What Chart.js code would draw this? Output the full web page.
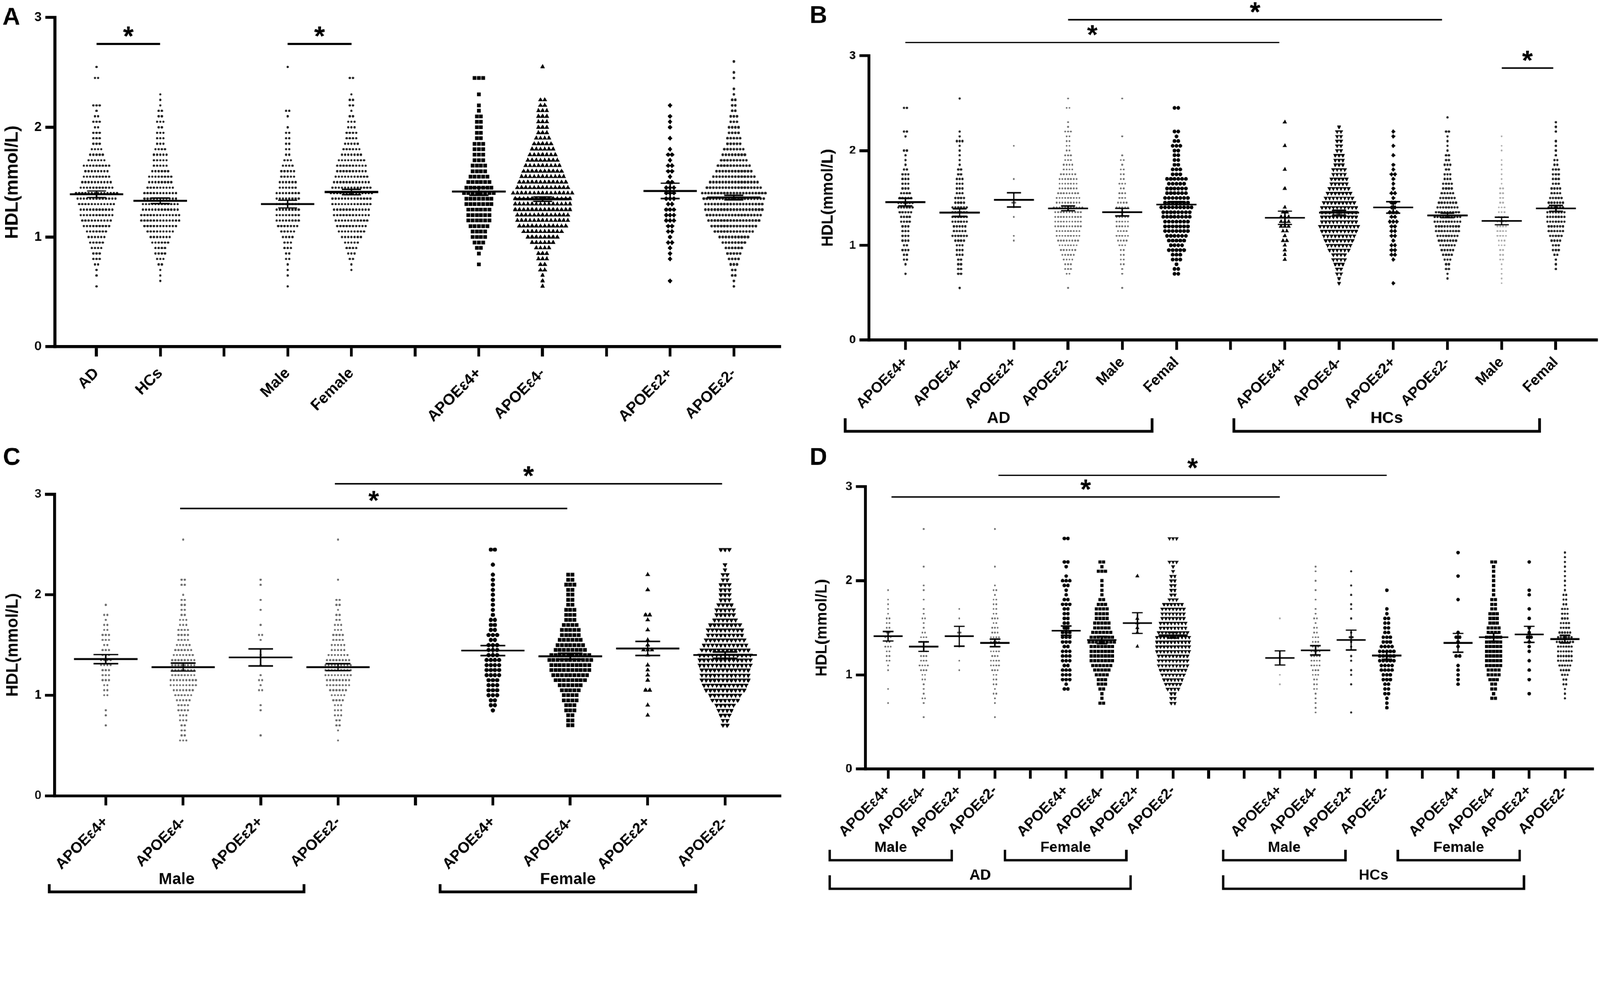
<!DOCTYPE html>
<html lang="en">
<head>
<meta charset="UTF-8">
<title>HDL by diagnosis, sex and APOE genotype</title>
<script src="https://cdn.jsdelivr.net/npm/chart.js"></script>
<style>
  html, body { margin: 0; padding: 0; background: #fff; overflow: hidden; height: 100%; }
  #frame { position: fixed; left: 0; top: 0; width: 100vw; height: 100vh; overflow: hidden; background: #fff; }
  #page { position: absolute; left: 0; top: 0; width: 4562px; height: 2554px; transform-origin: 0 0; background: #fff; }
  .panel { position: absolute; }
  .panel canvas { display: block; }
</style>
</head>
<body>
<div id="frame">
  <div id="page">
    <div class="panel" id="boxA"><canvas id="chartA"></canvas></div>
    <div class="panel" id="boxB"><canvas id="chartB"></canvas></div>
    <div class="panel" id="boxC"><canvas id="chartC"></canvas></div>
    <div class="panel" id="boxD"><canvas id="chartD"></canvas></div>
  </div>
</div>

<script>
// HDL value of each row of dots (mmol/L); every group below counts its dots per row
const BINS = [0.55,0.60,0.65,0.70,0.75,0.80,0.85,0.90,0.95,1.00,1.05,1.10,1.15,1.20,1.25,1.30,1.35,1.40,1.45,1.50,
              1.55,1.60,1.65,1.70,1.75,1.80,1.85,1.90,1.95,2.00,2.05,2.10,2.15,2.20,2.25,2.30,2.35,2.40,2.45,2.50,2.55,2.60];

// ---- panel A ----
const A_CATS = ['AD','HCs','','Male','Female','','APOEε4+','APOEε4-','','APOEε2+','APOEε2-'];
const A_AD     = [1,0,1,1,2,3,3,4,5,6, 7,9,10,11,11,12,13,14,11,10, 9,8,9,6,5,4,3,3,3,2, 3,2,1,3,0,0,0,0,2,0, 1,0];
const A_HCS    = [0,1,1,1,2,3,4,4,6,7, 9,11,13,13,12,12,11,11,9,8, 8,6,5,5,5,4,3,3,3,2, 3,2,2,1,1,1,0,0,0,0, 0,0];
const A_MALE   = [1,0,1,1,1,2,2,3,3,4, 5,7,8,8,8,8,8,8,6,6, 5,5,4,3,2,2,2,2,2,1, 0,1,2,0,0,0,0,0,0,0, 1,0];
const A_FEMALE = [0,0,0,1,1,2,3,4,5,7, 9,10,11,12,12,13,13,14,13,12, 11,10,10,9,7,6,5,4,4,3, 3,2,1,2,2,1,0,0,2,0, 0,0];
const A_E4P    = [0,0,0,0,1,0,1,2,3,4, 4,5,6,6,6,7,7,8,7,6, 5,4,4,3,3,3,3,2,2,2, 2,2,1,1,0,1,0,0,3,0, 0,0];
const A_E4M    = [1,1,1,2,2,3,3,4,6,8, 10,12,13,13,14,14,14,15,13,12, 11,10,9,8,7,6,5,4,3,3, 3,3,3,2,2,0,0,0,0,0, 1,0];
const A_E2P    = [0,1,0,0,0,1,1,1,2,1, 2,2,3,3,3,2,3,3,3,2, 1,2,2,1,2,1,0,1,0,1, 1,1,0,1,0,0,0,0,0,0, 0,0];
const A_E2M    = [1,1,2,2,3,4,5,6,8,10, 13,15,17,18,19,19,20,21,18,16, 14,12,11,9,8,7,5,5,4,4, 3,3,2,2,2,1,1,0,1,1, 0,1];
const A_MEAN = [1.39,1.33,null,1.30,1.41,null,1.415,1.345,null,1.42,1.36];
const A_SEM  = [0.03,0.025,null,0.035,0.025,null,0.035,0.02,null,0.07,0.02];
const A_SIG  = [[0,1,2.76],[3,4,2.76]];

// ---- panel B ----
const B_CATS = ['APOEε4+','APOEε4-','APOEε2+','APOEε2-','Male','Femal','','APOEε4+','APOEε4-','APOEε2+','APOEε2-','Male','Femal'];
const B_AD_E4P  = [0,0,0,1,0,1,2,2,3,2, 3,3,3,3,4,4,5,6,6,5, 4,3,3,3,3,2,1,1,1,2, 0,0,1,2,0,0,0,0,2,0, 0,0];
const B_AD_E4M  = [1,0,0,2,2,2,2,3,3,3, 4,6,5,5,6,6,6,6,4,4, 3,3,3,3,2,2,1,1,1,1, 1,3,1,1,0,0,0,0,0,0, 1,0];
const B_AD_E2P  = [0,0,0,0,0,0,0,0,0,0, 1,1,0,0,0,1,0,1,2,0, 1,0,0,1,0,0,0,0,0,0, 1,0,0,0,0,0,0,0,0,0, 0,0];
const B_AD_E2M  = [1,0,0,2,3,3,4,5,6,7, 8,9,9,10,10,10,10,11,9,9, 8,7,7,7,6,4,4,3,3,2, 2,2,2,3,1,1,0,0,2,0, 1,0];
const B_AD_MALE = [1,0,0,1,1,2,2,2,2,3, 4,5,4,5,5,5,6,5,4,3, 3,2,3,2,2,2,1,2,1,0, 0,0,1,0,0,0,0,0,0,0, 1,0];
const B_AD_FEM  = [0,0,0,2,2,1,3,3,5,4, 5,6,7,7,7,8,8,9,7,7, 6,6,5,6,3,3,2,2,2,2, 3,2,1,2,0,0,0,0,2,0, 0,0];
const B_HC_E4P  = [0,0,0,0,0,0,1,1,1,1, 2,1,2,3,3,3,2,1,0,0, 0,1,0,0,0,1,0,0,0,0, 1,0,0,0,0,1,0,0,0,0, 0,0];
const B_HC_E4M  = [0,1,1,2,2,3,4,4,6,7, 8,9,10,11,10,10,10,10,9,8, 7,6,5,5,4,4,3,3,3,2, 2,2,2,2,1,0,0,0,0,0, 0,0];
const B_HC_E2P  = [0,1,0,0,0,0,1,2,2,2, 1,2,2,2,3,2,3,2,2,1, 2,1,1,1,2,1,1,0,1,0, 1,0,1,1,0,0,0,0,0,0, 0,0];
const B_HC_E2M  = [0,0,1,1,2,2,3,4,5,6, 7,8,9,9,10,10,9,8,7,6, 5,4,4,3,3,2,3,2,2,1, 1,1,1,2,0,0,1,0,0,0, 0,0];
const B_HC_MALE = [0,1,1,1,1,1,2,2,2,3, 3,4,4,4,4,3,3,3,2,2, 2,2,1,1,1,1,1,1,0,1, 1,0,1,0,0,0,0,0,0,0, 0,0];
const B_HC_FEM  = [0,0,0,0,1,1,1,2,3,3, 4,5,6,6,7,7,7,6,6,5, 4,4,3,3,3,3,2,2,1,1, 1,1,0,1,1,1,0,0,0,0, 0,0];
const B_MEAN = [1.455,1.345,1.48,1.39,1.35,1.43,null,1.29,1.345,1.40,1.315,1.257,1.39];
const B_SEM  = [0.04,0.04,0.075,0.025,0.04,0.03,null,0.07,0.025,0.06,0.025,0.04,0.03];
const B_SIG  = [[3,9.9,3.38],[0,6.9,3.14],[11,11.95,2.87]];
const B_BRACKETS = [[-1.11,4.55,'AD',0],[6.06,11.70,'HCs',0]];

// ---- panel C ----
const C_CATS = ['APOEε4+','APOEε4-','APOEε2+','APOEε2-','','APOEε4+','APOEε4-','APOEε2+','APOEε2-'];
const C_M_E4P = [0,0,0,1,0,1,1,0,0,2, 2,2,3,3,3,4,4,3,3,2, 3,3,2,2,1,2,0,1,0,0, 0,0,0,0,0,0,0,0,0,0, 0,0];
const C_M_E4M = [3,2,2,2,3,3,4,4,5,6, 7,9,9,8,8,8,8,7,6,5, 4,4,4,3,3,2,2,2,2,1, 0,2,2,0,0,0,0,0,0,0, 1,0];
const C_M_E2P = [0,1,0,0,0,0,1,1,0,0, 2,1,2,1,0,1,0,1,0,0, 1,2,0,1,0,0,1,0,1,0, 0,1,1,0,0,0,0,0,0,0, 0,0];
const C_M_E2M = [1,0,1,2,2,3,3,3,4,5, 6,8,8,9,9,9,8,7,5,5, 4,4,3,3,2,2,1,2,2,0, 0,0,1,0,0,0,0,0,0,0, 1,0];
const C_F_E4P = [0,0,0,0,0,0,1,2,2,3, 3,3,3,4,4,4,4,3,3,3, 2,3,2,2,2,1,1,1,1,1, 1,1,1,1,0,1,0,0,2,0, 0,0];
const C_F_E4M = [0,0,0,2,2,2,3,3,4,4, 5,6,8,9,10,10,11,10,8,7, 6,5,5,4,3,3,3,2,2,2, 2,3,2,2,0,0,0,0,0,0, 0,0];
const C_F_E2P = [0,0,0,0,0,1,0,1,0,0, 2,0,1,1,1,1,0,1,3,1, 1,0,1,0,1,2,0,0,0,0, 1,0,0,1,0,0,0,0,0,0, 0,0];
const C_F_E2M = [0,0,0,2,2,3,4,5,7,8, 10,11,12,12,12,13,13,13,12,11, 10,9,9,8,6,5,5,4,3,3, 3,3,2,2,1,1,0,0,3,0, 0,0];
const C_MEAN = [1.36,1.28,1.376,1.28,null,1.444,1.388,1.465,1.40];
const C_SEM  = [0.045,0.04,0.085,0.035,null,0.05,0.03,0.07,0.03];
const C_SIG  = [[2.96,7.96,3.105],[0.96,5.96,2.86]];
const C_BRACKETS = [[-0.73,2.56,'Male',0],[4.32,7.62,'Female',0]];

// ---- panel D ----
const D_CATS = ['APOEε4+','APOEε4-','APOEε2+','APOEε2-','','APOEε4+','APOEε4-','APOEε2+','APOEε2-','','',
                'APOEε4+','APOEε4-','APOEε2+','APOEε2-','','APOEε4+','APOEε4-','APOEε2+','APOEε2-'];
const D_ADM_E4P = [0,0,0,1,0,0,1,0,0,0, 1,1,2,2,2,3,2,3,2,2, 2,2,1,1,1,1,0,1,0,0, 0,0,0,0,0,0,0,0,0,0, 0,0];
const D_ADM_E4M = [1,0,0,1,2,1,1,1,2,2, 3,4,3,3,3,3,3,3,2,1, 1,2,1,1,0,1,0,1,1,0, 0,0,1,0,0,0,0,0,0,0, 1,0];
const D_ADM_E2P = [0,0,0,0,0,0,0,0,0,0, 1,0,1,0,0,1,0,1,2,0, 0,1,0,1,0,0,0,0,0,0, 0,0,0,0,0,0,0,0,0,0, 0,0];
const D_ADM_E2M = [1,0,0,1,1,2,1,2,2,2, 3,4,4,3,4,4,4,4,3,3, 2,3,2,2,2,2,1,2,1,0, 0,0,1,0,0,0,0,0,0,0, 1,0];
const D_ADF_E4P = [0,0,0,0,0,0,2,1,3,3, 3,2,3,3,3,2,3,3,3,2, 2,2,2,2,3,2,1,1,2,3, 1,0,1,2,0,0,0,0,2,0, 0,0];
const D_ADF_E4M = [0,0,0,2,1,1,2,3,3,4, 5,6,7,7,7,7,8,7,6,5, 5,4,4,4,3,2,1,1,1,1, 0,3,1,2,0,0,0,0,0,0, 0,0];
const D_ADF_E2P = [0,0,0,0,0,0,0,0,0,0, 0,0,0,0,0,1,0,0,1,1, 1,1,0,0,0,0,0,0,0,0, 1,0,0,0,0,0,0,0,0,0, 0,0];
const D_ADF_E2M = [0,0,0,2,2,2,4,5,6,7, 8,9,9,9,10,10,10,10,9,8, 8,7,7,7,6,3,2,2,2,2, 2,1,1,3,0,0,0,0,3,0, 0,0];
const D_HCM_E4P = [0,0,0,0,0,0,0,1,0,1, 0,0,1,1,0,0,0,0,0,0, 0,1,0,0,0,0,0,0,0,0, 0,0,0,0,0,0,0,0,0,0, 0,0];
const D_HCM_E4M = [0,1,1,1,1,1,2,2,2,3, 3,4,4,4,4,3,3,3,2,2, 1,2,1,1,0,1,0,1,0,1, 0,1,1,0,0,0,0,0,0,0, 0,0];
const D_HCM_E2P = [0,1,0,0,0,0,0,1,0,1, 1,0,1,1,0,1,1,2,1,0, 0,1,0,1,1,0,1,0,1,0, 0,1,0,0,0,0,0,0,0,0, 0,0];
const D_HCM_E2M = [0,0,1,1,1,2,2,2,3,3, 4,4,5,5,5,4,3,3,2,2, 2,2,1,1,0,0,0,1,0,0, 0,0,0,0,0,0,0,0,0,0, 0,0];
const D_HCF_E4P = [0,0,0,0,0,0,0,1,1,1, 1,1,0,2,0,1,1,2,1,0, 0,0,0,0,0,1,0,0,0,0, 1,0,0,0,0,1,0,0,0,0, 0,0];
const D_HCF_E4M = [0,0,0,0,2,1,2,2,3,4, 4,5,5,5,5,5,5,5,4,4, 3,3,3,2,2,2,1,1,1,1, 1,1,1,2,0,0,0,0,0,0, 0,0];
const D_HCF_E2P = [0,0,0,0,0,1,0,0,1,0, 1,0,1,0,1,1,1,2,1,1, 0,1,0,1,0,0,1,1,0,0, 0,0,0,1,0,0,0,0,0,0, 0,0];
const D_HCF_E2M = [0,0,0,0,1,1,1,2,2,3, 4,5,6,6,6,6,7,6,5,4, 4,3,3,3,2,2,2,1,1,1, 1,1,1,1,1,1,0,0,0,0, 0,0];
const D_MEAN = [1.41,1.30,1.41,1.34,null,1.47,1.37,1.55,1.42,null,null,1.18,1.26,1.37,1.205,null,1.34,1.40,1.43,1.38];
const D_SEM  = [0.05,0.05,0.105,0.04,null,0.05,0.04,0.11,0.03,null,null,0.075,0.05,0.105,0.04,null,0.1,0.04,0.085,0.04];
const D_SIG  = [[3.1,14,3.12],[0.1,11,2.89]];
const D_BRACKETS = [[-1.64,1.79,'Male',0],[3.28,6.69,'Female',0],[-1.64,6.81,'AD',1],
                    [9.41,12.84,'Male',0],[14.31,17.73,'Female',0],[9.41,17.85,'HCs',1]];

// marker looks (radius / gap in px before the panel scale)
const MARKS = {
  tiny:    { style: 'circle',   r: 3.3, gap: 9,  color: '#1c1c1c' },
  small:   { style: 'circle',   r: 3.8, gap: 9,  color: '#222' },
  gray:    { style: 'circle',   r: 3.0, gap: 9,  color: '#6a6a6a' },
  light:   { style: 'circle',   r: 3.0, gap: 9,  color: '#a8a8a8' },
  dot:     { style: 'circle',   r: 6.0, gap: 12, color: '#000' },
  square:  { style: 'rect',     r: 7.5, gap: 12, color: '#000' },
  tri:     { style: 'triangle', r: 8.0, gap: 12, color: '#000' },
  dtri:    { style: 'triangle', r: 8.0, gap: 12, color: '#000', rot: 180 },
  diamond: { style: 'rectRot',  r: 7.0, gap: 11, color: '#000' }
};

const FONT = '"Liberation Sans", Arial, sans-serif';
Chart.defaults.font.family = FONT;
Chart.defaults.font.weight = 'bold';
Chart.defaults.color = '#000';

// the figure is laid out on a 4562 x 2554 sheet, then fitted to the window
const FIT = Math.min(window.innerWidth / 4562, window.innerHeight / 2554);
document.getElementById('page').style.transform = 'scale(' + FIT + ')';
const DPR = (window.devicePixelRatio || 1) * FIT;

// font size that makes a bold string a given length
const measureCtx = document.createElement('canvas').getContext('2d');
function fitSize(text, length) {
  measureCtx.font = 'bold 50px ' + FONT;
  return 50 * length / measureCtx.measureText(text).width;
}

const PANELS = [
  { id: 'A', box: [0, 0, 2300, 1250], area: [157, 50, 2223, 988], xmin: -0.65, xmax: 10.72,
    cats: A_CATS, groups: [A_AD, A_HCS, null, A_MALE, A_FEMALE, null, A_E4P, A_E4M, null, A_E2P, A_E2M],
    marks: ['tiny','tiny',null,'tiny','tiny',null,'square','tri',null,'diamond','small'],
    mean: A_MEAN, sem: A_SEM, sig: A_SIG, brackets: [], levels: [],
    tickFont: 38, xFont: 44, xPad: 22, titleLen: 323, titleX: 36, letter: [7, 70], scale: 1,
    meanHW: 0.42, capHW: 0.15, meanW: 6, semW: 4, sigW: 6, brW: 8, brFont: 44 },
  { id: 'B', box: [2300, 0, 2262, 1250], area: [2478, 159, 4551, 969], xmin: -0.67, xmax: 12.75,
    cats: B_CATS, groups: [B_AD_E4P, B_AD_E4M, B_AD_E2P, B_AD_E2M, B_AD_MALE, B_AD_FEM, null,
                           B_HC_E4P, B_HC_E4M, B_HC_E2P, B_HC_E2M, B_HC_MALE, B_HC_FEM],
    marks: ['small','small','gray','gray','gray','dot',null,'tri','dtri','diamond','small','light','small'],
    mean: B_MEAN, sem: B_SEM, sig: B_SIG, brackets: B_BRACKETS, levels: [{ dy: 260, cap: 37, lab: 41 }],
    tickFont: 33, xFont: 42, xPad: 11, titleLen: 279, titleX: 2361, letter: [2308, 66], scale: 0.9,
    meanHW: 0.37, capHW: 0.13, meanW: 5, semW: 4, sigW: 4, brW: 8, brFont: 46 },
  { id: 'C', box: [0, 1250, 2300, 1304], area: [156, 1409, 2224, 2267], xmin: -0.66, xmax: 8.71,
    cats: C_CATS, groups: [C_M_E4P, C_M_E4M, C_M_E2P, C_M_E2M, null, C_F_E4P, C_F_E4M, C_F_E2P, C_F_E2M],
    marks: ['gray','gray','gray','gray',null,'dot','square','tri','dtri'],
    mean: C_MEAN, sem: C_SEM, sig: C_SIG, brackets: C_BRACKETS, levels: [{ dy: 274, cap: 22, lab: 39 }],
    tickFont: 35, xFont: 43, xPad: 22, titleLen: 295, titleX: 37, letter: [8, 1325], scale: 1,
    meanHW: 0.41, capHW: 0.16, meanW: 5, semW: 4, sigW: 4, brW: 8, brFont: 46 },
  { id: 'D', box: [2300, 1250, 2262, 1304], area: [2468, 1387, 4539, 2191], xmin: -0.63, xmax: 19.77,
    cats: D_CATS, groups: [D_ADM_E4P, D_ADM_E4M, D_ADM_E2P, D_ADM_E2M, null, D_ADF_E4P, D_ADF_E4M, D_ADF_E2P, D_ADF_E2M, null, null,
                           D_HCM_E4P, D_HCM_E4M, D_HCM_E2P, D_HCM_E2M, null, D_HCF_E4P, D_HCF_E4M, D_HCF_E2P, D_HCF_E2M],
    marks: ['gray','gray','gray','gray',null,'dot','square','tri','dtri',null,null,
            'light','gray','small','dot',null,'dot','square','dot','small'],
    mean: D_MEAN, sem: D_SEM, sig: D_SIG, brackets: D_BRACKETS,
    levels: [{ dy: 260, cap: 30, lab: 39 }, { dy: 341, cap: 38, lab: 41 }],
    tickFont: 35, xFont: 42, xPad: 9, titleLen: 278, titleX: 2345, letter: [2308, 1325], scale: 0.85,
    meanHW: 0.41, capHW: 0.15, meanW: 5, semW: 4, sigW: 4, brW: 7, brFont: 42 }
];

function hline(ctx, x1, x2, y) { ctx.beginPath(); ctx.moveTo(x1, y); ctx.lineTo(x2, y); ctx.stroke(); }
function vline(ctx, x, y1, y2) { ctx.beginPath(); ctx.moveTo(x, y1); ctx.lineTo(x, y2); ctx.stroke(); }

function star(ctx, cx, cy) {
  ctx.font = 'bold 78px ' + FONT;
  ctx.textAlign = 'center';
  ctx.textBaseline = 'alphabetic';
  const m = ctx.measureText('*');
  ctx.fillText('*', cx, cy + (m.actualBoundingBoxAscent - m.actualBoundingBoxDescent) / 2);
}

// mean +/- SEM bars, significance lines, group brackets and panel letter
function overlay(p) {
  return {
    id: 'overlay' + p.id,
    afterDatasetsDraw(chart) {
      const { ctx, scales: { x, y } } = chart;
      ctx.save();
      ctx.strokeStyle = '#000';
      ctx.lineCap = 'butt';
      p.mean.forEach((m, i) => {
        if (m == null) return;
        const s = p.sem[i];
        const xc = x.getPixelForValue(i);
        ctx.lineWidth = p.meanW;
        hline(ctx, x.getPixelForValue(i - p.meanHW), x.getPixelForValue(i + p.meanHW), y.getPixelForValue(m));
        ctx.lineWidth = p.semW;
        vline(ctx, xc, y.getPixelForValue(m - s), y.getPixelForValue(m + s));
        hline(ctx, x.getPixelForValue(i - p.capHW), x.getPixelForValue(i + p.capHW), y.getPixelForValue(m + s));
        hline(ctx, x.getPixelForValue(i - p.capHW), x.getPixelForValue(i + p.capHW), y.getPixelForValue(m - s));
      });
      ctx.restore();
    },
    afterDraw(chart) {
      const { ctx, scales: { x, y }, chartArea } = chart;
      ctx.save();
      ctx.strokeStyle = '#000';
      ctx.fillStyle = '#000';
      p.sig.forEach(([a, b, v]) => {
        const yy = y.getPixelForValue(v);
        const x1 = x.getPixelForValue(a), x2 = x.getPixelForValue(b);
        ctx.lineWidth = p.sigW;
        hline(ctx, x1, x2, yy);
        star(ctx, (x1 + x2) / 2, yy - 34);
      });
      p.brackets.forEach(([a, b, label, lvl]) => {
        const L = p.levels[lvl];
        const yy = chartArea.bottom + L.dy;
        const x1 = x.getPixelForValue(a), x2 = x.getPixelForValue(b);
        ctx.lineWidth = p.brW;
        ctx.lineJoin = 'miter';
        ctx.beginPath();
        ctx.moveTo(x1, yy - L.cap); ctx.lineTo(x1, yy); ctx.lineTo(x2, yy); ctx.lineTo(x2, yy - L.cap);
        ctx.stroke();
        ctx.font = 'bold ' + p.brFont + 'px ' + FONT;
        ctx.textAlign = 'center';
        ctx.textBaseline = 'alphabetic';
        ctx.fillText(label, (x1 + x2) / 2, yy - L.lab + p.brFont * 0.36);
      });
      ctx.font = 'bold 70px ' + FONT;
      ctx.textAlign = 'left';
      ctx.textBaseline = 'alphabetic';
      ctx.fillText(p.id, p.letter[0] - p.box[0], p.letter[1] - p.box[1]);
      ctx.restore();
    }
  };
}

function buildPanel(p) {
  const box = document.getElementById('box' + p.id);
  box.style.left = p.box[0] + 'px';
  box.style.top = p.box[1] + 'px';
  box.style.width = p.box[2] + 'px';
  box.style.height = p.box[3] + 'px';
  const [L, T, R, B] = p.area;
  const slotPx = (R - L) / (p.xmax - p.xmin);
  const titleFont = fitSize('HDL(mmol/L)', p.titleLen);

  const datasets = [];
  p.groups.forEach((counts, i) => {
    if (!counts) return;
    const mk = MARKS[p.marks[i]];
    const gap = mk.gap * p.scale / slotPx;
    const pts = [];
    counts.forEach((n, k) => {
      if (BINS[k] === undefined) return;
      for (let j = 0; j < n; j++) pts.push({ x: i + (j - (n - 1) / 2) * gap, y: BINS[k] });
    });
    datasets.push({
      data: pts,
      pointStyle: mk.style,
      rotation: mk.rot || 0,
      pointRadius: mk.r * p.scale,
      pointHoverRadius: mk.r * p.scale,
      backgroundColor: mk.color,
      borderWidth: 0
    });
  });

  const axisGrid = { drawOnChartArea: false, drawTicks: true, tickLength: 28, lineWidth: 8, color: '#000' };
  new Chart(document.getElementById('chart' + p.id), {
    type: 'scatter',
    data: { datasets },
    options: {
      responsive: true,
      maintainAspectRatio: false,
      devicePixelRatio: DPR,
      animation: false,
      events: [],
      layout: {
        autoPadding: false,
        padding: { left: 0, top: T - p.box[1], right: p.box[0] + p.box[2] - R, bottom: 0 }
      },
      plugins: { legend: { display: false }, tooltip: { enabled: false } },
      scales: {
        x: {
          type: 'linear', min: p.xmin, max: p.xmax,
          afterFit: s => { s.height = p.box[1] + p.box[3] - B; },
          afterBuildTicks: s => { s.ticks = p.cats.map((c, i) => ({ value: i })); },
          ticks: {
            autoSkip: false, minRotation: 45, maxRotation: 45, padding: p.xPad,
            font: { size: p.xFont, weight: 'bold' },
            callback: v => p.cats[v] || ''
          },
          grid: axisGrid,
          border: { display: true, width: 8, color: '#000' }
        },
        y: {
          min: 0, max: 3,
          afterFit: s => { s.width = L - p.box[0]; },
          ticks: { stepSize: 1, padding: 10, font: { size: p.tickFont, weight: 'bold' } },
          grid: axisGrid,
          border: { display: true, width: 8, color: '#000' },
          title: {
            display: true, text: 'HDL(mmol/L)',
            font: { size: titleFont, weight: 'bold' },
            padding: { top: p.titleX - p.box[0] - titleFont * 0.6, bottom: 0 }
          }
        }
      }
    },
    plugins: [overlay(p)]
  });
}

PANELS.forEach(buildPanel);
</script>
</body>
</html>
